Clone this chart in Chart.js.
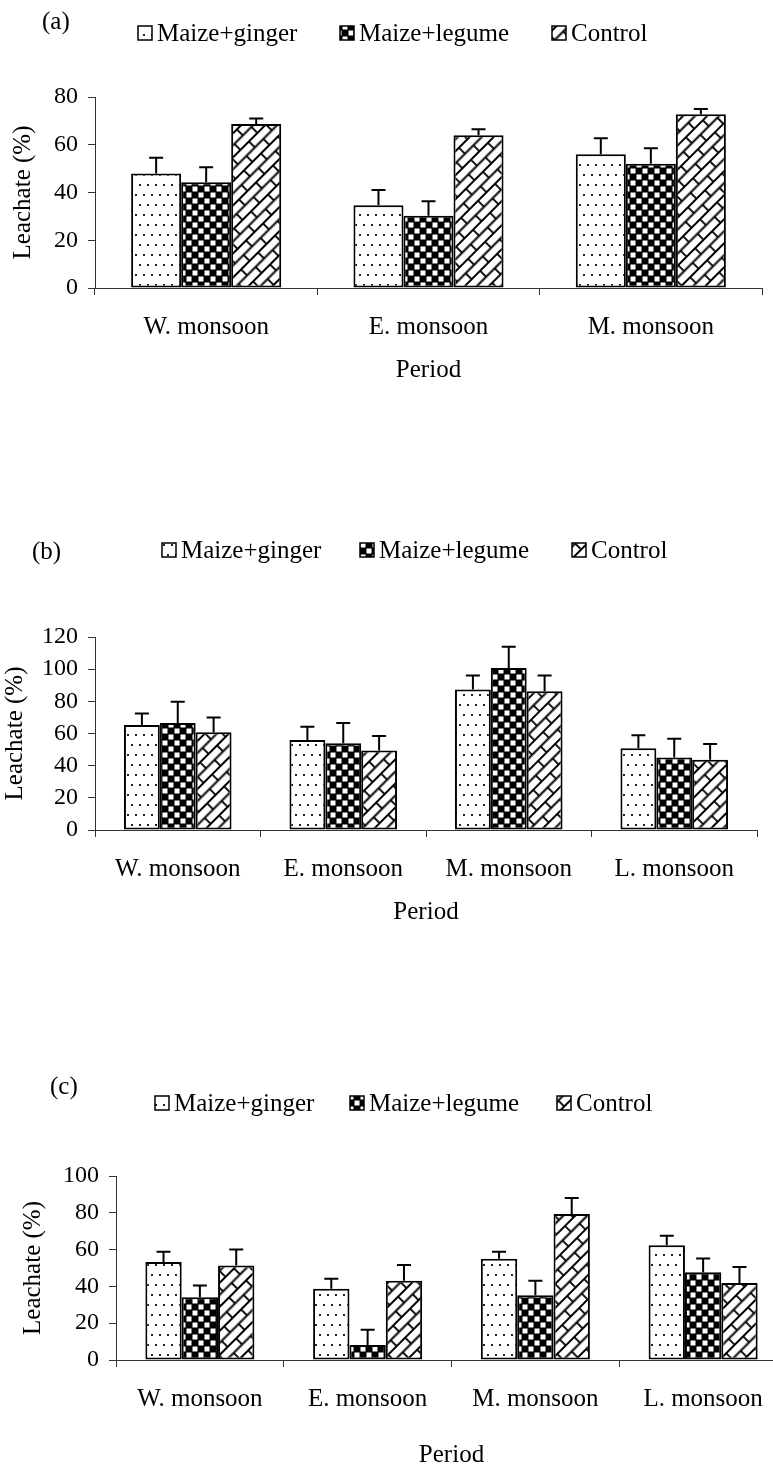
<!DOCTYPE html>
<html><head><meta charset="utf-8">
<script src="https://cdn.jsdelivr.net/npm/chart.js@4.4.1/dist/chart.umd.min.js"></script>
<style>
html,body{margin:0;padding:0;background:#fff;overflow:hidden;width:773px;height:1470px;position:relative;}
canvas{position:absolute;left:0;display:block;}
</style></head><body>
<canvas id="ca" width="773" height="389" style="top:0px"></canvas>
<canvas id="cb" width="773" height="431" style="top:500px"></canvas>
<canvas id="cc" width="790" height="434" style="top:1040px"></canvas>
<script>
// ---------- data ----------
const seriesNames = ['Maize+ginger', 'Maize+legume', 'Control'];
const periodsA = ['W. monsoon', 'E. monsoon', 'M. monsoon'];
const periodsBC = ['W. monsoon', 'E. monsoon', 'M. monsoon', 'L. monsoon'];

// panel (a)
const aGinger = [48, 34.7, 56];
const aGingerErr = [54.6, 41, 62.7];
const aLegume = [44.3, 30.3, 52];
const aLegumeErr = [50.6, 36.3, 58.5];
const aControl = [68.7, 64, 72.8];
const aControlErr = [71, 66.5, 75];
const aTicks = [0, 20, 40, 60, 80];

// panel (b)
const bGinger = [65.3, 56, 87.4, 50.9];
const bGingerErr = [72.5, 64.2, 96, 58.9];
const bLegume = [66.5, 54, 100.7, 45.1];
const bLegumeErr = [79.7, 66.6, 114, 56.8];
const bControl = [60.8, 49.4, 86.3, 43.7];
const bControlErr = [70, 58.5, 96, 53.4];
const bTicks = [0, 20, 40, 60, 80, 100, 120];

// panel (c)
const cGinger = [53.3, 38.7, 55, 62.4];
const cGingerErr = [58.8, 44.2, 58.8, 67.5];
const cLegume = [34.1, 8.2, 35.2, 47.7];
const cLegumeErr = [40.5, 16.4, 43.1, 55.2];
const cControl = [51.4, 43.1, 79.3, 41.9];
const cControlErr = [60, 51.6, 88, 50.6];
const cTicks = [0, 20, 40, 60, 80, 100];

// ---------- patterns ----------
const FONT = '"Liberation Serif", "Times New Roman", serif';
function makePatterns(ctx) {
  // dots (staggered)
  const d = document.createElement('canvas'); d.width = 16; d.height = 20;
  let g = d.getContext('2d');
  g.fillStyle = '#fff'; g.fillRect(0, 0, 16, 20);
  g.fillStyle = '#222';
  g.fillRect(3, 4, 2, 2); g.fillRect(11, 4, 2, 2);
  g.fillRect(7, 14, 2, 2); g.fillRect(15, 14, 1, 2); g.fillRect(0, 14, 1, 2);
  const dots = ctx.createPattern(d, 'repeat');
  // checkerboard
  const k = document.createElement('canvas'); k.width = 12; k.height = 12;
  g = k.getContext('2d');
  g.fillStyle = '#000'; g.fillRect(0, 0, 12, 12);
  g.fillStyle = '#fff'; g.fillRect(6.5, 0.5, 5, 5); g.fillRect(0.5, 6.5, 5, 5);
  const check = ctx.createPattern(k, 'repeat');
  // diagonal brick
  const b = document.createElement('canvas'); b.width = 24; b.height = 17;
  g = b.getContext('2d');
  g.fillStyle = '#fff'; g.fillRect(0, 0, 24, 17);
  g.strokeStyle = '#000'; g.lineWidth = 1.8;
  g.beginPath();
  g.moveTo(0, 4); g.lineTo(24, 4);
  g.moveTo(0, 12.5); g.lineTo(24, 12.5);
  g.moveTo(4, 4); g.lineTo(4, 12.5);
  g.moveTo(16, 12.5); g.lineTo(16, 17);
  g.moveTo(16, 0); g.lineTo(16, 4);
  g.stroke();
  const brick = ctx.createPattern(b, 'repeat');
  brick.setTransform(new DOMMatrix().rotate(-45));
  return [dots, check, brick];
}

// ---------- plugins ----------
const errorBars = {
  id: 'errorBars',
  afterDatasetsDraw(chart) {
    const ctx = chart.ctx, ys = chart.scales.y;
    chart.data.datasets.forEach((ds, di) => {
      const meta = chart.getDatasetMeta(di);
      meta.data.forEach((bar, i) => {
        const py = ys.getPixelForValue(ds.errTop[i]);
        ctx.save();
        ctx.strokeStyle = '#000'; ctx.lineWidth = 2;
        ctx.beginPath();
        ctx.moveTo(bar.x, bar.y); ctx.lineTo(bar.x, py);
        ctx.moveTo(bar.x - 7, py); ctx.lineTo(bar.x + 7, py);
        ctx.stroke();
        ctx.restore();
      });
    });
  }
};
const panelLegend = {
  id: 'panelLegend',
  afterDraw(chart, args, o) {
    const ctx = chart.ctx;
    ctx.save();
    ctx.font = '25px ' + FONT;
    ctx.textBaseline = 'middle'; ctx.textAlign = 'left';
    ctx.fillStyle = '#000';
    ctx.fillText(o.letter, o.letterX, o.letterY);
    chart.data.datasets.forEach((ds, i) => {
      const x = o.itemsX[i], y = o.y;
      ctx.fillStyle = ds.backgroundColor;
      ctx.fillRect(x, y - 7, 14, 14);
      ctx.strokeStyle = '#000'; ctx.lineWidth = 1.5;
      ctx.strokeRect(x, y - 7, 14, 14);
      ctx.fillStyle = '#000';
      ctx.fillText(ds.label, x + 19, y + 1);
    });
    ctx.restore();
  }
};

// ---------- builder ----------
function buildChart(id, cfg) {
  const canvas = document.getElementById(id);
  const ctx = canvas.getContext('2d');
  const pats = makePatterns(ctx);
  const ticks = cfg.ticks;
  return new Chart(ctx, {
    type: 'bar',
    data: {
      labels: cfg.labels,
      datasets: cfg.series.map((s, i) => ({
        label: seriesNames[i],
        data: s.values,
        errTop: s.err,
        backgroundColor: pats[i],
        borderColor: '#000',
        borderWidth: 2,
        borderSkipped: false,
        barPercentage: 1,
        categoryPercentage: cfg.catPct
      }))
    },
    options: {
      responsive: false,
      animation: false,
      events: [],
      layout: { padding: { top: cfg.top, right: cfg.right, left: 0, bottom: 0 } },
      plugins: {
        legend: { display: false },
        tooltip: { enabled: false },
        panelLegend: cfg.legend
      },
      scales: {
        x: {
          grid: { drawOnChartArea: false, drawTicks: true, tickLength: 7, color: '#333', offset: true },
          border: { display: true, color: '#333', width: 1 },
          ticks: { color: '#000', font: { family: FONT, size: 25 }, padding: 17, maxRotation: 0, autoSkip: false },
          title: { display: true, text: 'Period', color: '#000', font: { family: FONT, size: 25 }, padding: { top: 4, bottom: 4 } },
          afterFit(scale) { scale.height = cfg.xHeight; }
        },
        y: {
          min: ticks[0], max: ticks[ticks.length - 1],
          afterBuildTicks(scale) { scale.ticks = ticks.map(v => ({ value: v })); },
          grid: { drawOnChartArea: false, drawTicks: true, tickLength: 7, color: '#333' },
          border: { display: true, color: '#333', width: 1 },
          ticks: { color: '#000', font: { family: FONT, size: 24 }, padding: 10 },
          title: { display: true, text: 'Leachate (%)', color: '#000', font: { family: FONT, size: 25 }, padding: { top: cfg.yTitlePad, bottom: 0 } },
          afterFit(scale) { scale.width = cfg.yWidth; }
        }
      }
    },
    plugins: [errorBars, panelLegend]
  });
}

buildChart('ca', {
  labels: periodsA, ticks: aTicks, catPct: 0.675,
  series: [{ values: aGinger, err: aGingerErr }, { values: aLegume, err: aLegumeErr }, { values: aControl, err: aControlErr }],
  top: 97, right: 11, xHeight: 101, yWidth: 95, yTitlePad: 8,
  legend: { letter: '(a)', letterX: 42, letterY: 22, itemsX: [138, 340, 552], y: 33 }
});
buildChart('cb', {
  labels: periodsBC, ticks: bTicks, catPct: 0.65,
  series: [{ values: bGinger, err: bGingerErr }, { values: bLegume, err: bLegumeErr }, { values: bControl, err: bControlErr }],
  top: 137, right: 16, xHeight: 101, yWidth: 95, yTitlePad: 0,
  legend: { letter: '(b)', letterX: 32, letterY: 52, itemsX: [162, 360, 572], y: 50 }
});
buildChart('cc', {
  labels: periodsBC, ticks: cTicks, catPct: 0.65,
  series: [{ values: cGinger, err: cGingerErr }, { values: cLegume, err: cLegumeErr }, { values: cControl, err: cControlErr }],
  top: 136, right: 3, xHeight: 114, yWidth: 116, yTitlePad: 18,
  legend: { letter: '(c)', letterX: 50, letterY: 47, itemsX: [155, 350, 557], y: 63 }
});
</script>
</body></html>
